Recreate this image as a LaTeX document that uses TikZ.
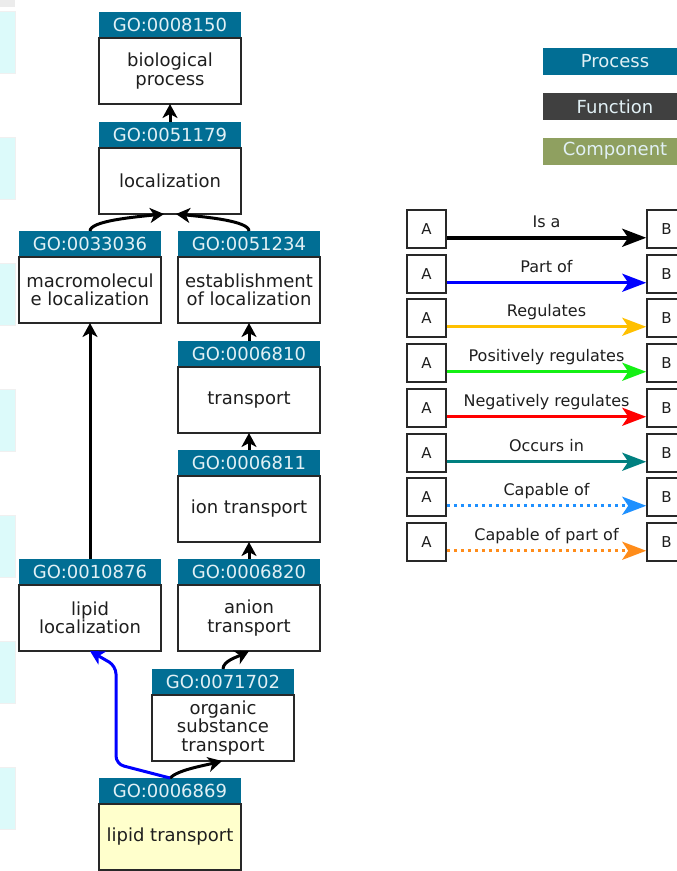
\documentclass[tikz,border=0pt]{standalone}
\usepackage{fontspec}
\setmainfont{DejaVu Sans}
\usepackage{tikz}
\usetikzlibrary{positioning}
\usetikzlibrary{arrows.meta}
\definecolor{goblue}{RGB}{1,110,148}
\definecolor{funcgray}{RGB}{64,64,64}
\definecolor{compgreen}{RGB}{143,160,96}
\definecolor{headtxt}{RGB}{225,240,245}
\definecolor{bodytxt}{RGB}{30,30,30}
\definecolor{boxline}{RGB}{40,40,40}
\definecolor{termfill}{RGB}{255,255,204}
\definecolor{stripcol}{RGB}{220,250,250}
\definecolor{capof}{RGB}{30,144,255}
\definecolor{cappartof}{RGB}{255,140,26}
\definecolor{regcol}{RGB}{255,192,0}
\definecolor{poscol}{RGB}{20,240,20}
\tikzstyle{gohead}=[fill=goblue, text=headtxt, minimum width=142pt, minimum height=26pt, inner sep=0pt, outer sep=0pt, font=\fontsize{18}{19}\selectfont]
\tikzstyle{gobody}=[draw=boxline, line width=1.5pt, fill=white, text=bodytxt, minimum width=142pt, minimum height=66pt, inner sep=2pt, outer sep=0pt, align=center, font=\fontsize{18}{18.5}\selectfont]
\tikzstyle{catbox}=[text=headtxt, minimum width=144pt, minimum height=27pt, inner sep=0pt, font=\fontsize{18}{19}\selectfont]
\tikzstyle{abox}=[draw=boxline, line width=1.5pt, fill=white, text=bodytxt, minimum width=39pt, minimum height=38pt, inner sep=0pt, font=\fontsize{15}{15}\selectfont]
\tikzstyle{rellab}=[text=bodytxt, inner sep=0pt, anchor=base, yshift=10pt, font=\fontsize{16}{16}\selectfont]
\tikzstyle{isa}=[draw=black, line width=3pt, -{Stealth[length=14pt, width=15pt, inset=4pt]}]
\tikzstyle{partof}=[draw=blue, line width=3pt, rounded corners=8pt, -{Stealth[length=14pt, width=15pt, inset=4pt]}]
\tikzstyle{legarrow}=[line width=3.3pt, -{Stealth[length=24pt, width=18pt, inset=6pt]}]

\begin{document}
\begin{tikzpicture}[x=1pt, y=-1pt]
        \useasboundingbox (0,0) rectangle (677,871);
        \clip (0,0) rectangle (677,871);
        %\draw[step=50, gray, very thin] (0,0) grid (677,871);
        % page strips on the left
        \fill[gray!15] (0,0) rectangle (15,7);
        \foreach \k in {0,...,6}
            \filldraw[fill=stripcol, draw=gray!12, line width=1pt] (-2,11+126*\k) rectangle (15,73+126*\k);

        % GO terms
        \node[gohead] (h8150) at (170,25) {GO:0008150};
        \node[gobody, below=0pt of h8150] (t8150) {biological\\process};
        \node[gohead] (h51179) at (170,135) {GO:0051179};
        \node[gobody, below=0pt of h51179] (t51179) {localization};
        \node[gohead] (h33036) at (90,244) {GO:0033036};
        \node[gobody, below=0pt of h33036] (t33036) {macromolecul\\e localization};
        \node[gohead] (h51234) at (249,244) {GO:0051234};
        \node[gobody, below=0pt of h51234] (t51234) {establishment\\of localization};
        \node[gohead] (h6810) at (249,354) {GO:0006810};
        \node[gobody, below=0pt of h6810] (t6810) {transport};
        \node[gohead] (h6811) at (249,463) {GO:0006811};
        \node[gobody, below=0pt of h6811] (t6811) {ion transport};
        \node[gohead] (h10876) at (90,572) {GO:0010876};
        \node[gobody, below=0pt of h10876] (t10876) {lipid\\localization};
        \node[gohead] (h6820) at (249,572) {GO:0006820};
        \node[gobody, below=0pt of h6820] (t6820) {anion\\transport};
        \node[gohead] (h71702) at (223,682) {GO:0071702};
        \node[gobody, below=0pt of h71702] (t71702) {organic\\substance\\transport};
        \node[gohead] (h6869) at (170,791) {GO:0006869};
        \node[gobody, fill=termfill, below=0pt of h6869] (t6869) {lipid transport};

        % edges
        \draw[isa] (h51179.north) -- (t8150.south);
        \draw[isa] (h33036.north) .. controls +(0,-10) and +(-30,3) .. ([xshift=-6pt]t51179.south);
        \draw[isa] (h51234.north) .. controls +(0,-10) and +(30,3) .. ([xshift=6pt]t51179.south);
        \draw[isa] (h10876.north) -- (t33036.south);
        \draw[isa] (h6810.north) -- (t51234.south);
        \draw[isa] (h6811.north) -- (t6810.south);
        \draw[isa] (h6820.north) -- (t6811.south);
        \draw[isa] (h71702.north) .. controls +(0,-8) and +(-12,6) .. (t6820.south);
        \draw[isa] (h6869.north) .. controls +(8,-8) and +(-20,5) .. ([xshift=-1pt]t71702.south);
        \draw[partof] (h6869.north) -- (116,764) -- (116,666) -- (t10876.south);

        % ontology key
        \node[catbox, fill=goblue] (proc) at (615,61.5) {Process};
        \node[catbox, fill=funcgray] (func) at (615,106.5) {Function};
        \node[catbox, fill=compgreen] (comp) at (615,151) {Component};

        % relation key
        \node[abox] (a1) at (426.5,229) {A};
        \node[abox] (b1) at (666.5,229) {B};
        \draw[legarrow, black, line width=3.8pt] ([yshift=11pt]a1.south east) -- node[rellab, midway] {Is a} ([yshift=11pt]b1.south west);
        \node[abox] (a2) at (426.5,274) {A};
        \node[abox] (b2) at (666.5,274) {B};
        \draw[legarrow, blue] ([yshift=11pt]a2.south east) -- node[rellab, midway] {Part of} ([yshift=11pt]b2.south west);
        \node[abox] (a3) at (426.5,318) {A};
        \node[abox] (b3) at (666.5,318) {B};
        \draw[legarrow, regcol] ([yshift=11pt]a3.south east) -- node[rellab, midway] {Regulates} ([yshift=11pt]b3.south west);
        \node[abox] (a4) at (426.5,363) {A};
        \node[abox] (b4) at (666.5,363) {B};
        \draw[legarrow, poscol] ([yshift=11pt]a4.south east) -- node[rellab, midway] {Positively regulates} ([yshift=11pt]b4.south west);
        \node[abox] (a5) at (426.5,408) {A};
        \node[abox] (b5) at (666.5,408) {B};
        \draw[legarrow, red] ([yshift=11pt]a5.south east) -- node[rellab, midway] {Negatively regulates} ([yshift=11pt]b5.south west);
        \node[abox] (a6) at (426.5,453) {A};
        \node[abox] (b6) at (666.5,453) {B};
        \draw[legarrow, teal] ([yshift=11pt]a6.south east) -- node[rellab, midway] {Occurs in} ([yshift=11pt]b6.south west);
        \node[abox] (a7) at (426.5,497) {A};
        \node[abox] (b7) at (666.5,497) {B};
        \draw[legarrow, capof, dash pattern=on 3pt off 4pt] ([yshift=11pt]a7.south east) -- node[rellab, midway] {Capable of} ([yshift=11pt]b7.south west);
        \node[abox] (a8) at (426.5,542) {A};
        \node[abox] (b8) at (666.5,542) {B};
        \draw[legarrow, cappartof, dash pattern=on 3pt off 4pt] ([yshift=11pt]a8.south east) -- node[rellab, midway] {Capable of part of} ([yshift=11pt]b8.south west);
    \end{tikzpicture}
\end{document}
